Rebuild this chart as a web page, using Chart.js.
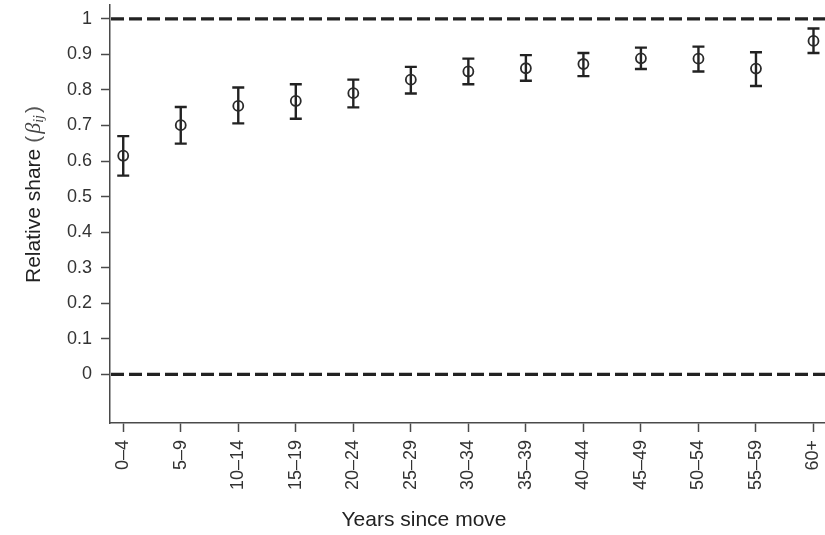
<!DOCTYPE html>
<html>
<head>
<meta charset="utf-8">
<style>
  html, body { margin: 0; padding: 0; background: #ffffff; }
  #wrap { position: relative; width: 825px; height: 535px; }
</style>
<script src="https://cdn.jsdelivr.net/npm/chart.js@4"></script>
</head>
<body>
<div id="wrap"><canvas id="chart" width="825" height="535"></canvas></div>
<script>
// Years since move (category groups)
const categories = ['0–4', '5–9', '10–14', '15–19', '20–24', '25–29', '30–34',
                    '35–39', '40–44', '45–49', '50–54', '55–59', '60+'];
// Estimated relative share and its confidence bounds
const estimates = [0.615, 0.701, 0.755, 0.769, 0.791, 0.829, 0.852, 0.861, 0.873, 0.889, 0.888, 0.860, 0.938];
const lowerBound = [0.559, 0.649, 0.706, 0.719, 0.751, 0.790, 0.816, 0.826, 0.839, 0.859, 0.852, 0.811, 0.904];
const upperBound = [0.670, 0.752, 0.807, 0.816, 0.829, 0.865, 0.888, 0.898, 0.904, 0.919, 0.922, 0.906, 0.973];
// Horizontal reference levels
const referenceLevels = [0, 1];
// y-axis tick values
const yTickValues = [0, 0.1, 0.2, 0.3, 0.4, 0.5, 0.6, 0.7, 0.8, 0.9, 1];

const INK = '#222222';
const FONT = "'Liberation Sans', Arial, Helvetica, sans-serif";
const MATH = "'Liberation Serif', 'DejaVu Serif', serif";

const points = estimates.map((v, i) => ({ x: i, y: v }));

// Keep the plot area flush with the canvas edges (no label overhang padding)
function noEdgePadding(scale) {
  scale.paddingLeft = 0;
  scale.paddingRight = 0;
  scale.paddingTop = 0;
  scale.paddingBottom = 0;
}

// Dashed reference lines across the full plot width
const referenceLinesPlugin = {
  id: 'referenceLines',
  beforeDatasetsDraw(chart) {
    const { ctx, chartArea, scales } = chart;
    ctx.save();
    ctx.strokeStyle = INK;
    ctx.lineWidth = 3.3;
    ctx.setLineDash([13, 5]);
    referenceLevels.forEach(level => {
      const y = scales.y.getPixelForValue(level);
      ctx.beginPath();
      ctx.moveTo(chartArea.left + 1, y);
      ctx.lineTo(chartArea.right, y);
      ctx.stroke();
    });
    ctx.restore();
  }
};

// Vertical whiskers with caps for each estimate
const errorBarsPlugin = {
  id: 'errorBars',
  beforeDatasetsDraw(chart) {
    const { ctx, scales } = chart;
    ctx.save();
    ctx.strokeStyle = INK;
    ctx.lineWidth = 2.4;
    ctx.lineCap = 'butt';
    const cap = 6;
    estimates.forEach((v, i) => {
      const x = scales.x.getPixelForValue(i);
      const yLo = scales.y.getPixelForValue(lowerBound[i]);
      const yHi = scales.y.getPixelForValue(upperBound[i]);
      ctx.beginPath();
      ctx.moveTo(x, yLo);
      ctx.lineTo(x, yHi);
      ctx.moveTo(x - cap, yHi);
      ctx.lineTo(x + cap, yHi);
      ctx.moveTo(x - cap, yLo);
      ctx.lineTo(x + cap, yLo);
      ctx.stroke();
    });
    ctx.restore();
  }
};

// Axis titles, including the italic beta with subscript
const axisTitlesPlugin = {
  id: 'axisTitles',
  afterDraw(chart) {
    const { ctx } = chart;
    ctx.save();
    ctx.fillStyle = INK;
    ctx.textBaseline = 'middle';
    ctx.textAlign = 'center';
    ctx.font = '21px ' + FONT;
    ctx.fillText('Years since move', 424, 520);

    ctx.translate(34, 283);
    ctx.rotate(-Math.PI / 2);
    ctx.textAlign = 'left';
    let x = 0;
    const part = (text, font, dy, color) => {
      ctx.font = font;
      ctx.fillStyle = color || INK;
      ctx.fillText(text, x, dy || 0);
      x += ctx.measureText(text).width;
    };
    part('Relative share', '21px ' + FONT);
    x += 6;
    part('(', '300 21px ' + FONT, 0, '#555555');
    x += 2;
    part('β', 'italic 22px ' + MATH, 0, '#444444');
    part('ij', 'italic 14px ' + MATH, 5, '#444444');
    x += 2;
    part(')', '300 21px ' + FONT, 0, '#555555');
    ctx.restore();
  }
};

new Chart(document.getElementById('chart'), {
  type: 'scatter',
  data: {
    datasets: [{
      data: points,
      pointStyle: 'circle',
      pointRadius: 5,
      pointHoverRadius: 5,
      pointBorderWidth: 1.8,
      borderColor: '#2a2a2a',
      backgroundColor: 'rgba(0,0,0,0)',
      showLine: false,
      clip: false
    }]
  },
  options: {
    responsive: false,
    animation: false,
    events: [],
    layout: { autoPadding: false, padding: { top: 5, right: 0, left: 0, bottom: 0 } },
    plugins: {
      legend: { display: false },
      tooltip: { enabled: false }
    },
    scales: {
      x: {
        type: 'linear',
        min: -0.23,
        max: 12.2,
        afterBuildTicks(scale) {
          scale.ticks = categories.map((c, i) => ({ value: i }));
        },
        afterFit(scale) { scale.height = 112; noEdgePadding(scale); },
        grid: {
          drawOnChartArea: false,
          drawTicks: true,
          tickLength: 9,
          tickWidth: 1.5,
          color: '#4a4a4a'
        },
        border: { display: true, color: '#4a4a4a', width: 1.5 },
        ticks: {
          autoSkip: false,
          minRotation: 90,
          maxRotation: 90,
          padding: 8,
          color: '#333333',
          font: { family: FONT, size: 18 },
          callback: (value) => categories[value] ?? ''
        }
      },
      y: {
        type: 'linear',
        min: -0.137,
        max: 1.039,
        afterBuildTicks(scale) {
          scale.ticks = yTickValues.map(v => ({ value: v }));
        },
        afterFit(scale) { scale.width = 110; noEdgePadding(scale); },
        grid: {
          drawOnChartArea: false,
          drawTicks: true,
          tickLength: 9,
          tickWidth: 1.5,
          color: '#4a4a4a'
        },
        border: { display: true, color: '#4a4a4a', width: 1.5 },
        ticks: {
          padding: 9,
          color: '#333333',
          font: { family: FONT, size: 18 },
          callback: (value) => String(Math.round(value * 10) / 10)
        }
      }
    }
  },
  plugins: [referenceLinesPlugin, errorBarsPlugin, axisTitlesPlugin]
});
</script>
</body>
</html>
